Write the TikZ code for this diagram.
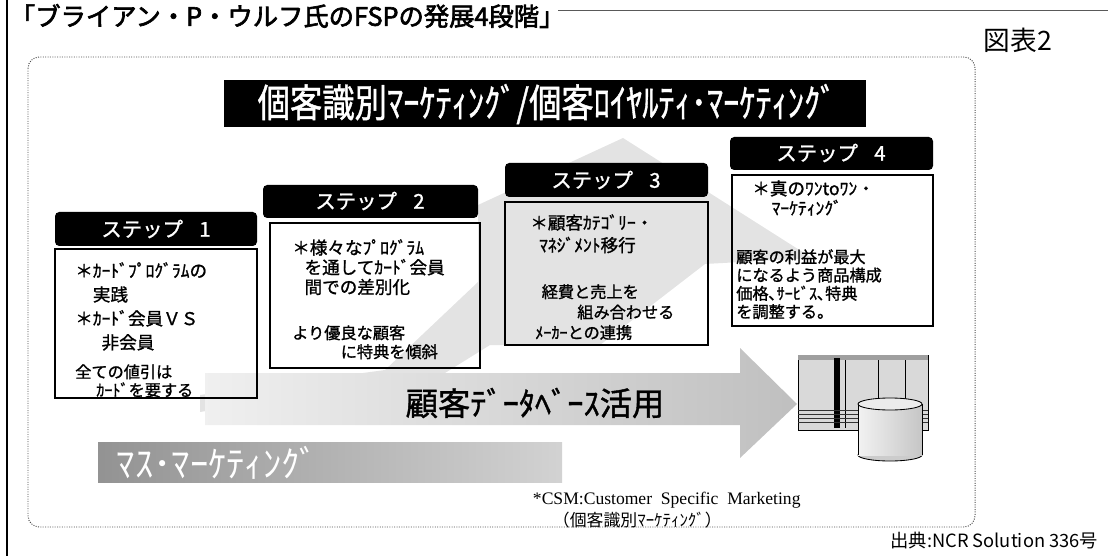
\documentclass[tikz,border=0pt]{standalone}
\usepackage{fontspec}
\setmainfont{Liberation Serif}
\newfontfamily\jp{Noto Sans CJK JP}
\newfontfamily\jpm[FakeBold=1.2]{Noto Sans CJK JP}
\newfontfamily\jpb[FakeBold=2.5]{Noto Sans CJK JP}

\tikzset{
  headbar/.style={fill=black, rounded corners=3pt},
  headtext/.style={text=white, font=\jpm\fontsize{14.5}{14.5}\selectfont},
  stepbox/.style={draw=black, line width=1pt},
  pointtext/.style={anchor=north west, inner sep=0pt, align=left,
    font=\jpm\fontsize{12.5}{#1}\selectfont},
  notetext/.style={anchor=north west, inner sep=0pt, align=left,
    font=\jpm\fontsize{11.5}{#1}\selectfont},
}

\begin{document}
\begin{tikzpicture}[x=0.025cm, y=-0.025cm]
\useasboundingbox (0,0) rectangle (1108,556);
% page rules and headings
\draw[line width=0.8pt] (7,0) -- (7,556);
\draw[line width=0.6pt, gray!70!black] (558,10) -- (1108,10);
\node[anchor=west, font=\jpb\fontsize{18}{18}\selectfont] (title) at (5,16) {「ブライアン・P・ウルフ氏のFSPの発展4段階」};
\node[font=\jp\fontsize{19}{19}\selectfont] (fig) at (1018,40) {図表2};
% frame
\draw[gray!60!black, line width=0.7pt, densely dotted, rounded corners=8pt] (28,57) rectangle (975,527);
% banner
\fill (224,80) rectangle (866,127);
\node[text=white, font=\jpm\fontsize{23}{23}\selectfont] (banner) at (547,104) {\scalebox{1}[1.2]{個客識別ﾏｰｹﾃｨﾝｸﾞ/個客ﾛｲﾔﾙﾃｨ･ﾏｰｹﾃｨﾝｸﾞ}};
% rising band behind the steps
\fill[gray!22] (200,395) -- (385,370) -- (478,282) -- (478,205) -- (623,138) -- (812,258)
  -- (705,264) -- (600,345) -- (490,345) -- (445,373) -- (200,412) -- cycle;
% database arrow
\shade[left color=gray!12, right color=gray!50] (205,373) -- (740,373) -- (740,348) -- (797,404)
  -- (740,458) -- (740,425) -- (205,425) -- cycle;
\node[font=\jpm\fontsize{23}{23}\selectfont] (db) at (535,403) {顧客ﾃﾞｰﾀﾍﾞｰｽ活用};
% mass marketing bar
\shade[left color=gray!85, right color=gray!35] (98,442) rectangle (562,482);
\node[anchor=west, text=white, font=\jp\fontsize{26}{26}\selectfont] (mass) at (112,463) {ﾏｽ･ﾏｰｹﾃｨﾝｸﾞ};

% step 1
\fill[headbar] (55,212) rectangle (257,246);
\node[headtext] (step1) at (156,229) {ステップ\hspace{0.8em}1};
\draw[stepbox] (55,249) rectangle (257,398);
\node[pointtext=17pt] (s1a) at (75,262) {＊ｶｰﾄﾞﾌﾟﾛｸﾞﾗﾑの\\\hspace*{1em}実践\\＊ｶｰﾄﾞ会員ＶＳ\\\hspace*{1.5em}非会員};
\node[notetext=13pt] (s1b) at (75,364) {全ての値引は\\\hspace*{1.3em}ｶｰﾄﾞを要する};
% step 2
\fill[headbar] (263,185) rectangle (478,218);
\node[headtext] (step2) at (370,201) {ステップ\hspace{0.8em}2};
\draw[stepbox] (270,223) rectangle (480,368);
\node[pointtext=14pt] (s2a) at (292,239) {＊様々なﾌﾟﾛｸﾞﾗﾑ\\\hspace*{0.7em}を通してｶｰﾄﾞ会員\\\hspace*{0.7em}間での差別化};
\node[notetext=13.5pt] (s2b) at (292,325) {より優良な顧客\\\hspace*{3em}に特典を傾斜};
% step 3
\fill[headbar] (505,163) rectangle (708,197);
\node[headtext] (step3) at (606,180) {ステップ\hspace{0.8em}3};
\draw[stepbox] (505,202) rectangle (708,345);
\node[pointtext=16pt] (s3a) at (530,214) {＊顧客ｶﾃｺﾞﾘｰ・\\\hspace*{0.5em}ﾏﾈｼﾞﾒﾝﾄ移行};
\node[notetext=14.5pt] (s3b) at (535,284) {\hspace*{0.4em}経費と売上を\\\hspace*{2.6em}組み合わせる\\ﾒｰｶｰとの連携};
% step 4
\fill[headbar] (730,137) rectangle (933,170);
\node[headtext] (step4) at (831,153) {ステップ\hspace{0.8em}4};
\draw[stepbox] (732,175) rectangle (933,326);
\node[pointtext=14pt] (s4a) at (752,180) {＊真のﾜﾝtoﾜﾝ・\\\hspace*{1.1em}ﾏｰｹﾃｨﾝｸﾞ};
\node[notetext=13pt] (s4b) at (736,249) {顧客の利益が最大\\になるよう商品構成\\価格､ｻｰﾋﾞｽ､特典\\を調整する。};

% database server
\filldraw[fill=gray!30, line width=0.6pt] (798,355) rectangle (928,430);
\fill[gray!75] (798,355) rectangle (928,360);
\fill (834,358) rectangle (840,428);
\foreach \x in {845,878,905} \draw[line width=0.4pt] (\x,360) -- (\x,428);
\foreach \y in {410,414,418,422} \draw[gray!40!black, line width=0.4pt] (798,\y) -- (928,\y);
% disk
\filldraw[fill=gray!40, line width=0.6pt] (890,455) ellipse [x radius=32, y radius=6];
\fill[left color=gray!10, right color=gray!45] (858,404) rectangle (922,455);
\draw[line width=0.6pt] (858,404) -- (858,455) (922,404) -- (922,455);
\filldraw[fill=gray!15, line width=0.6pt] (890,404) ellipse [x radius=32, y radius=6];

% notes
\node[anchor=west, font=\fontsize{12.5}{12.5}\selectfont] (csm) at (528,500) {*CSM:Customer\ \ Specific\ \ Marketing};
\node[anchor=west, font=\jp\fontsize{12}{12}\selectfont] (csmjp) at (548,520) {（個客識別ﾏｰｹﾃｨﾝｸﾞ）};
\node[anchor=east, font=\jp\fontsize{13}{13}\selectfont] (src) at (1103,541) {出典:NCR Solution 336号};
\end{tikzpicture}
\end{document}
